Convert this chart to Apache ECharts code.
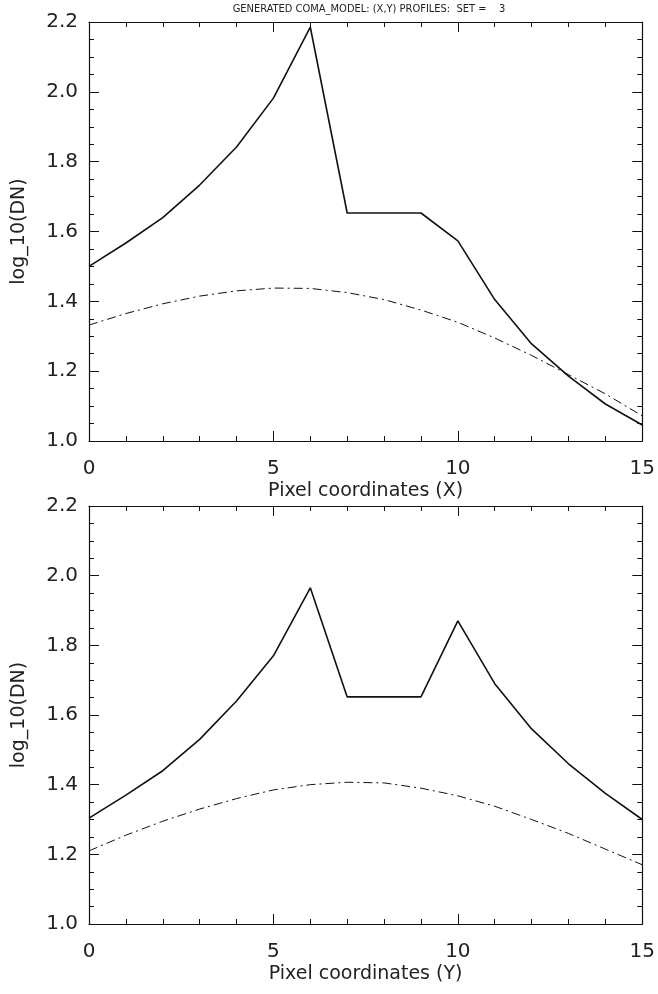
<!DOCTYPE html>
<html>
<head>
<meta charset="utf-8">
<script src="https://cdn.jsdelivr.net/npm/echarts@6/dist/echarts.min.js"></script>
<style>html,body{margin:0;padding:0;background:#fff;}#c{width:658px;height:994px;}</style>
</head>
<body>
<div id="c"></div>
<script>
const pixels = [0,1,2,3,4,5,6,7,8,9,10,11,12,13,14,15];
const xProfileData = [1.50,1.567,1.64,1.733,1.842,1.982,2.185,1.653,1.653,1.653,1.573,1.405,1.278,1.186,1.106,1.046];
const xProfileModel = [1.332,1.365,1.393,1.415,1.430,1.438,1.437,1.425,1.405,1.375,1.340,1.295,1.245,1.190,1.135,1.072];
const yProfileData = [1.304,1.37,1.44,1.53,1.64,1.77,1.965,1.652,1.652,1.652,1.87,1.69,1.56,1.46,1.375,1.30];
const yProfileModel = [1.21,1.255,1.295,1.33,1.36,1.385,1.40,1.407,1.405,1.39,1.368,1.338,1.30,1.26,1.215,1.17];
const yTicks = ['1.0','1.2','1.4','1.6','1.8','2.0','2.2'];
const titleText = 'GENERATED COMA_MODEL: (X,Y) PROFILES:  SET =    3';
const xNames = ['Pixel coordinates (X)','Pixel coordinates (Y)'];
const yName = 'log_10(DN)';

const FONT = '"DejaVu Sans", "Liberation Sans", sans-serif';
const INK = '#111';
const TXT = '#222';
const grids = [
  {left: 89, right: 14, top: 22, height: 419},
  {left: 89, right: 14, top: 506, height: 418}
];
const xAxes = [], yAxes = [];
grids.forEach((g, i) => {
  xAxes.push({
    type: 'value', gridIndex: i, min: 0, max: 15, interval: 5, position: 'bottom',
    axisLine: {show: true, onZero: false, lineStyle: {color: INK, width: 1.2}},
    axisTick: {show: true, inside: true, length: 10, lineStyle: {color: INK}},
    minorTick: {show: true, splitNumber: 5, length: 5, lineStyle: {color: INK}},
    splitLine: {show: false},
    axisLabel: {color: TXT, fontFamily: FONT, fontSize: 20, margin: 18},
    name: xNames[i], nameLocation: 'middle', nameGap: 41,
    nameTextStyle: {color: TXT, fontFamily: FONT, fontSize: 19}
  });
  xAxes.push({
    type: 'value', gridIndex: i, min: 0, max: 15, interval: 5, position: 'top',
    axisLine: {show: true, onZero: false, lineStyle: {color: INK, width: 1.2}},
    axisTick: {show: true, inside: true, length: 10, lineStyle: {color: INK}},
    minorTick: {show: true, splitNumber: 5, length: 5, lineStyle: {color: INK}},
    splitLine: {show: false}, axisLabel: {show: false}
  });
  yAxes.push({
    type: 'value', gridIndex: i, min: 1.0, max: 2.2, interval: 0.2, position: 'left',
    axisLine: {show: true, onZero: false, lineStyle: {color: INK, width: 1.2}},
    axisTick: {show: true, inside: true, length: 10, lineStyle: {color: INK}},
    minorTick: {show: true, splitNumber: 4, length: 5, lineStyle: {color: INK}},
    splitLine: {show: false},
    axisLabel: {color: TXT, fontFamily: FONT, fontSize: 20, margin: 11,
      formatter: v => yTicks[Math.round((v - 1.0) / 0.2)] || ''},
    name: yName, nameLocation: 'middle', nameGap: 60, nameRotate: 90,
    nameTextStyle: {color: TXT, fontFamily: FONT, fontSize: 19}
  });
  yAxes.push({
    type: 'value', gridIndex: i, min: 1.0, max: 2.2, interval: 0.2, position: 'right',
    axisLine: {show: true, onZero: false, lineStyle: {color: INK, width: 1.2}},
    axisTick: {show: true, inside: true, length: 10, lineStyle: {color: INK}},
    minorTick: {show: true, splitNumber: 4, length: 5, lineStyle: {color: INK}},
    splitLine: {show: false}, axisLabel: {show: false}
  });
});

function mk(vals, xi, yi, dashed) {
  return {
    type: 'line', xAxisIndex: xi, yAxisIndex: yi,
    data: pixels.map((p, k) => [p, vals[k]]),
    showSymbol: false, symbol: 'none', animation: false,
    lineStyle: {color: INK, width: dashed ? 1 : 1.6, type: dashed ? [9, 4, 2, 4] : 'solid'}
  };
}

const chart = echarts.init(document.getElementById('c'), null, {renderer: 'canvas'});
chart.setOption({
  backgroundColor: '#fff',
  animation: false,
  grid: grids,
  xAxis: xAxes,
  yAxis: yAxes,
  graphic: [{
    type: 'text', x: 369, y: 9,
    style: {text: titleText, fill: TXT, font: '11px "DejaVu Sans Condensed", "DejaVu Sans", sans-serif', textAlign: 'center', textVerticalAlign: 'middle'}
  }],
  series: [
    mk(xProfileData, 0, 0, false),
    mk(xProfileModel, 0, 0, true),
    mk(yProfileData, 2, 2, false),
    mk(yProfileModel, 2, 2, true)
  ]
});
</script>
</body>
</html>
